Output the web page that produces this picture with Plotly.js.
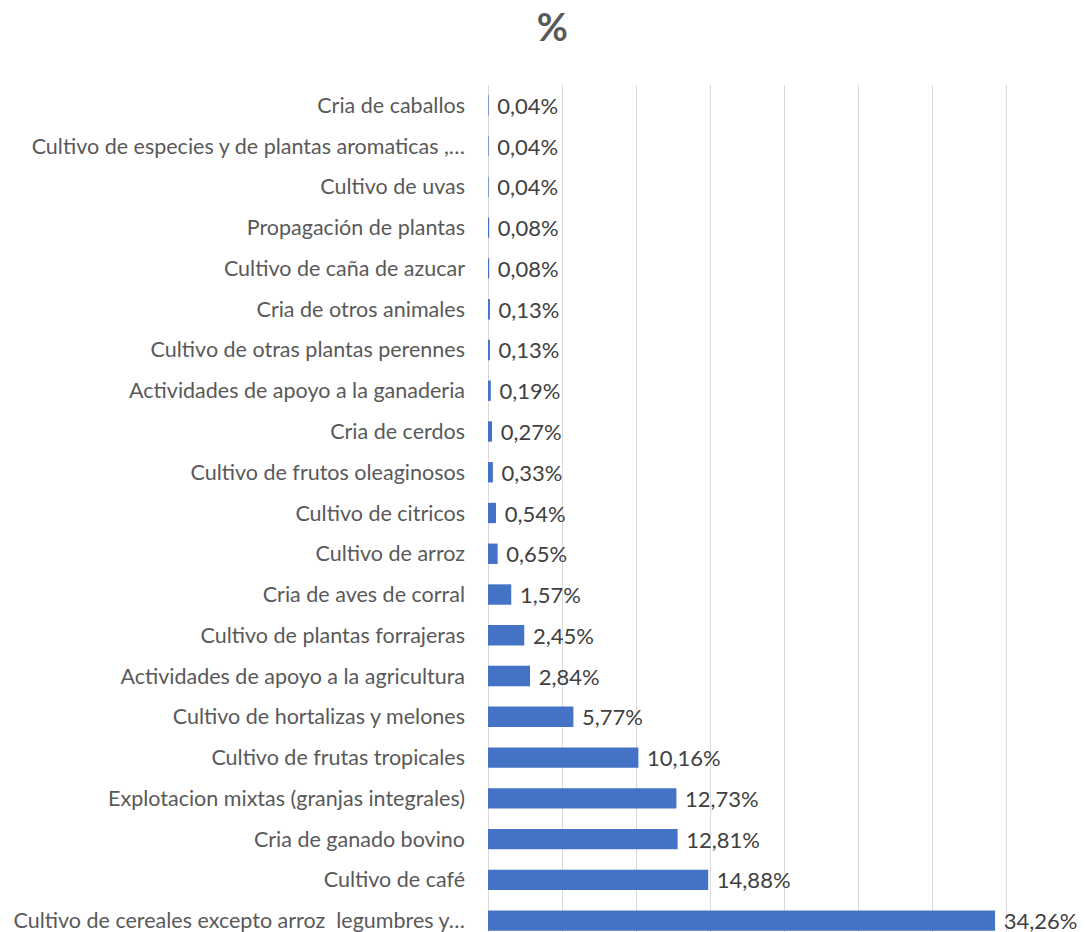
<!DOCTYPE html>
<html>
<head>
<meta charset="utf-8">
<script src="https://cdn.plot.ly/plotly-3.0.1.min.js"></script>
<style>html,body{margin:0;padding:0;overflow:hidden;background:#fff;}</style>
</head>
<body>
<div id="chart" style="width:1085px;height:941px;"></div>
<script>
const categories = [
  "Cria de caballos",
  "Cultivo de especies y de plantas aromaticas ,…",
  "Cultivo de uvas",
  "Propagación de plantas",
  "Cultivo de caña de azucar",
  "Cria de otros animales",
  "Cultivo de otras plantas perennes",
  "Actividades de apoyo a la ganaderia",
  "Cria de cerdos",
  "Cultivo de frutos oleaginosos",
  "Cultivo de citricos",
  "Cultivo de arroz",
  "Cria de aves de corral",
  "Cultivo de plantas forrajeras",
  "Actividades de apoyo a la agricultura",
  "Cultivo de hortalizas y melones",
  "Cultivo de frutas tropicales",
  "Explotacion mixtas (granjas integrales)",
  "Cria de ganado bovino",
  "Cultivo de café",
  "Cultivo de cereales excepto arroz\u00a0 legumbres y…"
];
const values = [0.04, 0.04, 0.04, 0.08, 0.08, 0.13, 0.13, 0.19, 0.27, 0.33, 0.54, 0.65, 1.57, 2.45, 2.84, 5.77, 10.16, 12.73, 12.81, 14.88, 34.26];
const labels = values.map(v => "\u00a0" + v.toFixed(2).replace(".", ",") + "%");

const trace = {
  type: "bar",
  orientation: "h",
  x: values,
  y: categories,
  text: labels,
  textposition: "outside",
  constraintext: "none",
  cliponaxis: false,
  textfont: {family: "Lato, sans-serif", size: 22, color: "#404040"},
  marker: {color: "#4472C4", line: {width: 0}},
  hoverinfo: "skip"
};

const layout = {
  width: 1085,
  height: 941,
  margin: {l: 488, r: 5, t: 85, b: 0},
  paper_bgcolor: "#fff",
  plot_bgcolor: "#fff",
  bargap: 0.5,
  showlegend: false,
  title: {text: "<b>%</b>", x: 0.509, xref: "container", xanchor: "center", y: 0.985, yref: "container", yanchor: "top",
          font: {family: "Lato, sans-serif", size: 38, color: "#595959"}},
  xaxis: {range: [0, 40], dtick: 5, tick0: 0, showticklabels: false, showgrid: true, gridcolor: "#d9d9d9", gridwidth: 1,
          zeroline: true, zerolinecolor: "#d9d9d9", zerolinewidth: 1, showline: false, fixedrange: true},
  yaxis: {autorange: "reversed", showgrid: false, zeroline: false, showline: false, ticks: "", ticklabelstandoff: 22,
          tickfont: {family: "Lato, sans-serif", size: 21.5, color: "#595959"}, fixedrange: true}
};

Plotly.newPlot("chart", [trace], layout, {displayModeBar: false, staticPlot: true});
</script>
</body>
</html>
